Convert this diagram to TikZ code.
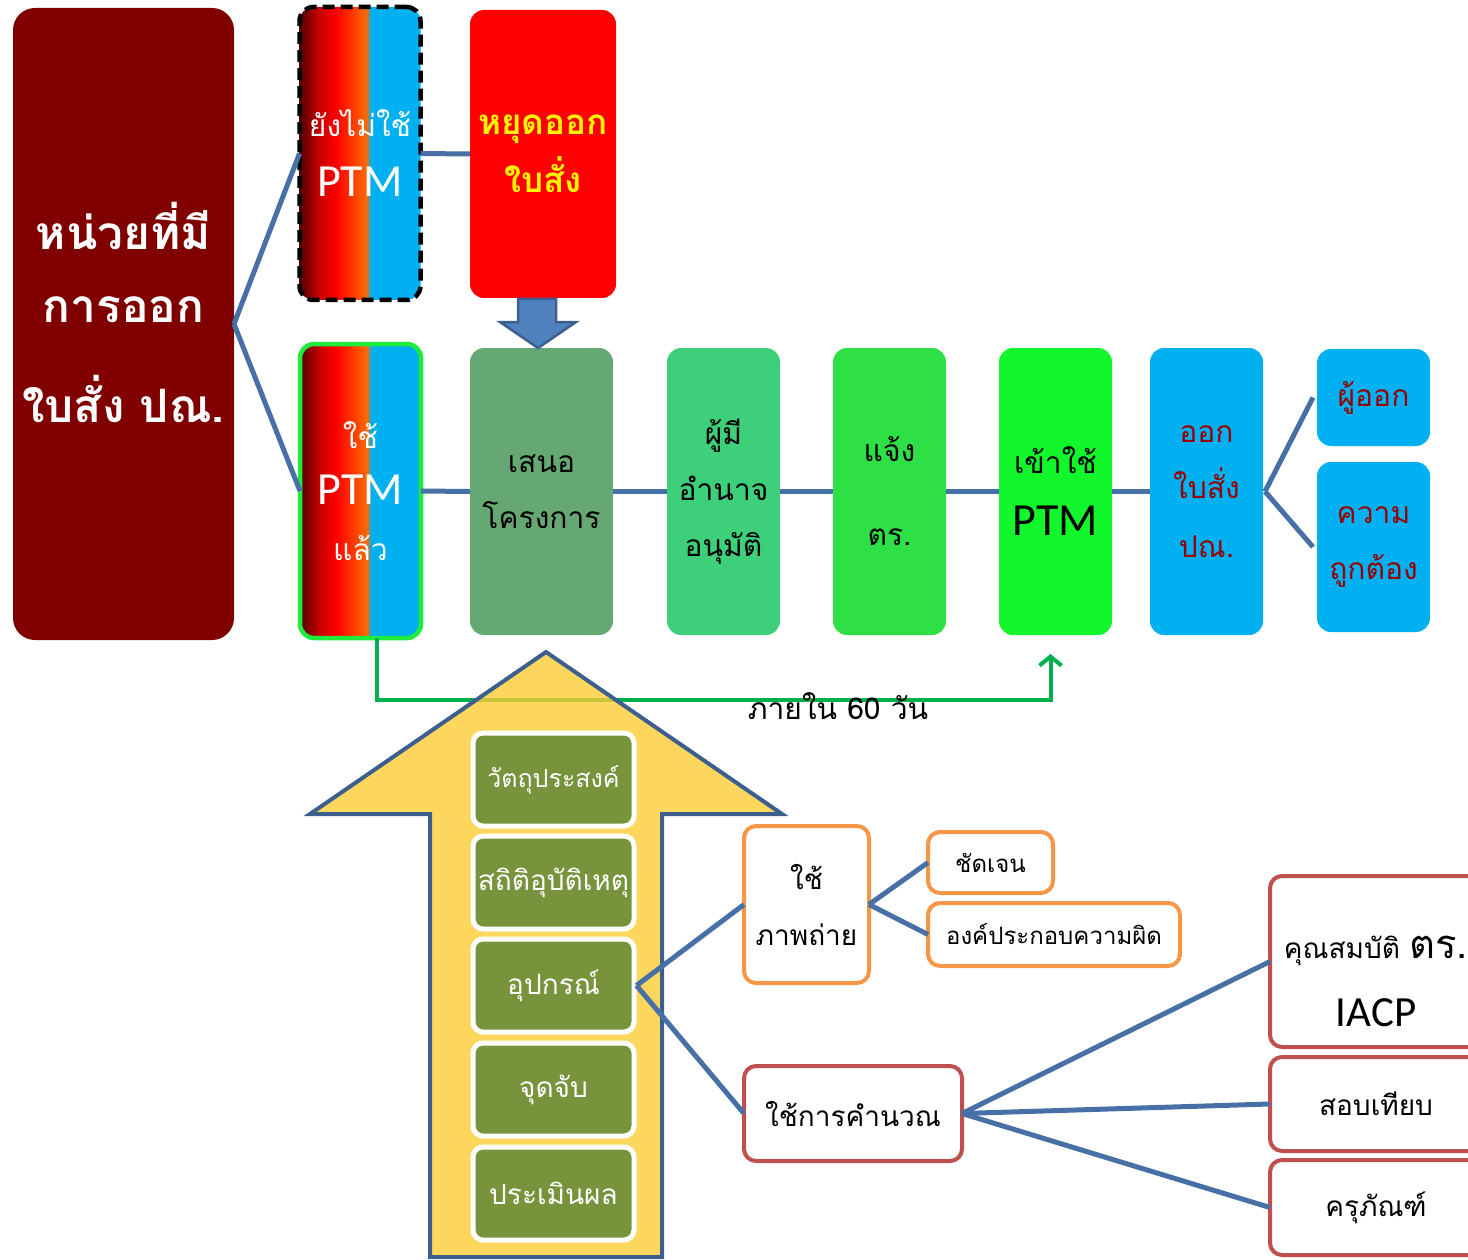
\documentclass[tikz,border=0pt]{standalone}
\usepackage{fontspec}
\setmainfont{Carlito}
\newfontfamily\thaifont[Script=Thai]{Loma}
\newfontfamily\latinfont{Carlito}
\usepackage{tikz}
\usetikzlibrary{arrows.meta}
\definecolor{maroonbox}{RGB}{128,0,0}
\definecolor{proposegreen}{RGB}{102,168,116}
\definecolor{approvegreen}{RGB}{62,207,122}
\definecolor{notifygreen}{RGB}{46,224,69}
\definecolor{entergreen}{RGB}{17,247,43}
\definecolor{skyblue}{RGB}{0,176,240}
\definecolor{linkblue}{RGB}{70,112,166}
\definecolor{arrowrim}{RGB}{60,95,142}
\definecolor{arrowfill}{RGB}{252,204,54}
\definecolor{downfill}{RGB}{79,129,189}
\definecolor{olivebox}{RGB}{119,147,60}
\definecolor{orangerim}{RGB}{247,150,70}
\definecolor{redrim}{RGB}{192,80,77}
\definecolor{usedrim}{RGB}{30,235,60}
\definecolor{daysgreen}{RGB}{0,176,80}
\definecolor{textred}{RGB}{150,0,0}
\definecolor{fadedark}{RGB}{80,0,0}
\definecolor{fademid}{RGB}{200,0,0}
\definecolor{fadeorange}{RGB}{255,105,0}
\pgfdeclarehorizontalshading{ptmfade}{100bp}{color(0bp)=(fadedark); color(25bp)=(fadedark); color(33bp)=(fademid); color(40bp)=(red); color(52.5bp)=(fadeorange); color(54.5bp)=(skyblue); color(100bp)=(skyblue)}
\newcommand\thaibody{\thaifont\fontsize{30}{56}\selectfont}
\newcommand\thaileaf{\thaifont\fontsize{28}{56}\selectfont}
\newcommand\thaismall{\thaifont\fontsize{24}{52}\selectfont}
\newcommand\thaitopic{\thaifont\fontsize{28}{52}\selectfont}
\newcommand\ptm{{\latinfont\fontsize{46}{56}\selectfont PTM}}

\begin{document}
\begin{tikzpicture}[x=1pt,y=-1pt,
    link/.style={draw=linkblue,line width=5pt},
    stage/.style={rounded corners=14pt,minimum height=287pt,inner sep=0pt,
        outer sep=0pt,align=center,font=\thaibody},
    fadebox/.style={rounded corners=14pt,shading=ptmfade,minimum width=121pt,
        minimum height=294pt,inner sep=0pt,outer sep=0pt,align=center,
        text=white,font=\thaibody,line width=4.5pt},
    topic/.style={rounded corners=10pt,fill=olivebox,draw=white,line width=5pt,
        minimum width=161pt,minimum height=93pt,inner sep=0pt,text=white,
        font=\thaitopic},
    leaf/.style={rounded corners=12pt,fill=white,line width=4pt,inner sep=0pt,
        outer sep=0pt,align=center,font=\thaileaf}]
\useasboundingbox (0,0) rectangle (1468,1260);
\clip (0,0) rectangle (1468,1260);

% units and the split
\node[rounded corners=22pt,fill=maroonbox,minimum width=221pt,minimum height=632pt,
    inner sep=0pt,outer sep=0pt] (unit) at (123.5,324) {};
\node[align=center,text=white,inner sep=0pt,
    font=\thaifont\bfseries\fontsize{46}{73}\selectfont] (unitlabel) at (123.5,312)
    {หน่วยที่มี\\การออก\\[27pt]ใบสั่ง ปณ.};
\node[fadebox,draw=black,dash pattern=on 12pt off 6pt,minimum height=293pt] (notyet) at (360,153.5)
    {ยังไม่ใช้\\[4pt]\ptm};
\node[rounded corners=14pt,fill=red,minimum width=146pt,minimum height=288pt,
    inner sep=0pt,outer sep=0pt,align=center,text=yellow,
    font=\thaifont\bfseries\fontsize{35}{58}\selectfont] (stop) at (543,154)
    {หยุดออก\\ใบสั่ง};
\node[fadebox,draw=usedrim] (used) at (360.5,491) {ใช้\\\ptm\\แล้ว};

% main row
\node[stage,fill=proposegreen,minimum width=143pt] (propose) at (541.5,491.5) {เสนอ\\โครงการ};
\node[stage,fill=approvegreen,minimum width=113pt] (approve) at (723.5,491.5) {ผู้มี\\อำนาจ\\อนุมัติ};
\node[stage,fill=notifygreen,minimum width=113pt] (notify) at (889.5,491.5) {แจ้ง\\[28pt]ตร.};
\node[stage,fill=entergreen,minimum width=113pt] (enter) at (1055.5,491.5) {เข้าใช้\\[6pt]\ptm};
\node[stage,fill=skyblue,minimum width=113pt,text=textred] (issue) at (1206.5,491.5) {ออก\\ใบสั่ง\\[3pt]ปณ.};
\node[stage,fill=skyblue,minimum width=113pt,minimum height=97pt,text=textred] (issuer) at (1373.5,397.5) {ผู้ออก};
\node[stage,fill=skyblue,minimum width=113pt,minimum height=170pt,text=textred] (accuracy) at (1373.5,547) {ความ\\ถูกต้อง};

\draw[link] (unit.east) -- (notyet.west);
\draw[link] (unit.east) -- (used.west);
\draw[link] (notyet.east) -- (stop.west);
\draw[link] (used.east) -- (propose.west);
\draw[link] (propose.east) -- (approve.west);
\draw[link] (approve.east) -- (notify.west);
\draw[link] (notify.east) -- (enter.west);
\draw[link] (enter.east) -- (issue.west);
\draw[link] ([xshift=2pt]issue.east) -- ([xshift=-4pt]issuer.west);
\draw[link] ([xshift=2pt]issue.east) -- ([xshift=-4pt]accuracy.west);

% stop -> propose
\draw[fill=downfill,draw=arrowrim,line width=2.5pt]
    (518,299) -- (556,299) -- (556,322) -- (576,322) -- (538,348)
    -- (500,322) -- (518,322) -- cycle;

% within 60 days
\draw[daysgreen,line width=4pt,-{Straight Barb[length=9pt,width=22pt]}]
    ([xshift=16pt]used.south) -- ++(0,62) -| ([xshift=-5pt,yshift=-19pt]enter.south);
\node[font=\thaibody,inner sep=0pt] (days) at (838,706) {ภายใน 60 วัน};

% big arrow
\draw[fill=arrowfill,fill opacity=0.8,draw=arrowrim,line width=4pt,line join=miter]
    (546,652) -- (782,814) -- (662,814) -- (662,1257) -- (430,1257)
    -- (430,814) -- (310,814) -- cycle;
\node[topic,font=\thaifont\fontsize{25}{52}\selectfont] (aim) at (553.5,779.5) {วัตถุประสงค์};
\node[topic] (stats) at (553.5,882.5) {สถิติอุบัติเหตุ};
\node[topic] (device) at (553.5,985.5) {อุปกรณ์};
\node[topic] (spot) at (553.5,1089.5) {จุดจับ};
\node[topic] (assess) at (553.5,1193.5) {ประเมินผล};

% device branches
\node[leaf,draw=orangerim,minimum width=125pt,minimum height=157pt] (photo) at (806.5,904.5) {ใช้\\ภาพถ่าย};
\node[leaf,draw=orangerim,minimum width=125pt,minimum height=61pt,font=\thaismall] (clear) at (990.5,862.5) {ชัดเจน};
\node[leaf,draw=orangerim,minimum width=252pt,minimum height=63pt,font=\thaismall] (parts) at (1054,934.5) {องค์ประกอบความผิด};
\node[leaf,draw=redrim,minimum width=218pt,minimum height=95pt] (calc) at (853,1113.5) {ใช้การคำนวณ};
\node[leaf,draw=redrim,minimum width=212pt,minimum height=171pt] (qual) at (1376,961.5)
    {\rule{0pt}{62pt}คุณสมบัติ {\fontsize{40}{56}\selectfont ตร.}\\[12pt]{\latinfont\fontsize{43}{56}\selectfont IACP}};
\node[leaf,draw=redrim,minimum width=212pt,minimum height=94pt] (calib) at (1376,1104) {สอบเทียบ};
\node[leaf,draw=redrim,minimum width=212pt,minimum height=95pt] (equip) at (1376,1207.5) {ครุภัณฑ์};

\draw[link] (device.east) -- (photo.west);
\draw[link] (device.east) -- (calc.west);
\draw[link] (photo.east) -- (clear.west);
\draw[link] (photo.east) -- (parts.west);
\draw[link] (calc.east) -- (qual.west);
\draw[link] (calc.east) -- (calib.west);
\draw[link] (calc.east) -- (equip.west);
\end{tikzpicture}
\end{document}
